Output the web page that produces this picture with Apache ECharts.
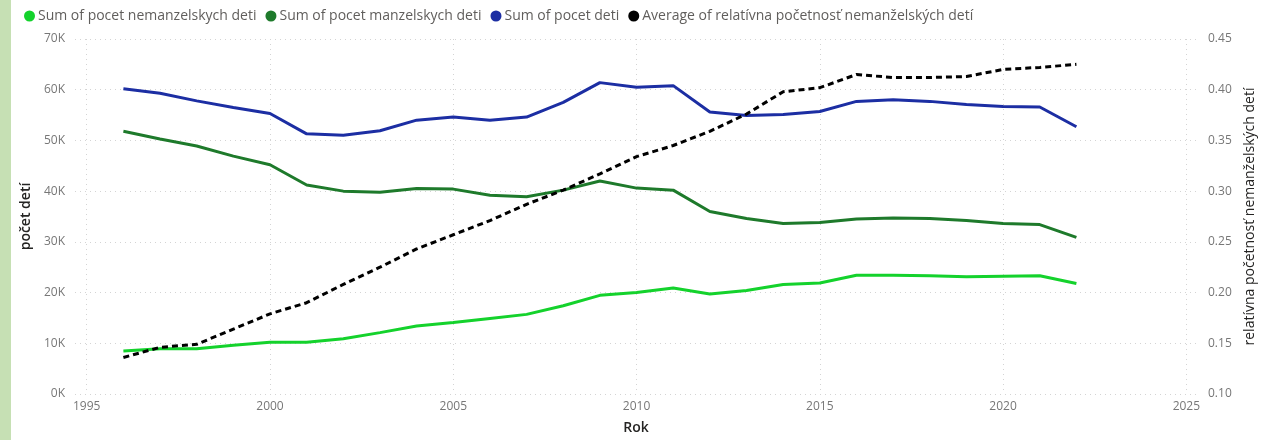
<!DOCTYPE html>
<html>
<head>
<meta charset="utf-8">
<script src="https://cdn.jsdelivr.net/npm/echarts@6/dist/echarts.min.js"></script>
<style>
  html, body { margin: 0; padding: 0; background: #fff; }
  #chart { width: 1276px; height: 440px; }
</style>
</head>
<body>
<div id="chart"></div>
<script>
var years = [1996, 1997, 1998, 1999, 2000, 2001, 2002, 2003, 2004, 2005, 2006, 2007, 2008, 2009,
             2010, 2011, 2012, 2013, 2014, 2015, 2016, 2017, 2018, 2019, 2020, 2021, 2022];

var nemanzelske = [8500, 8900, 8900, 9600, 10200, 10200, 10900, 12100, 13400, 14100, 14900, 15700, 17400, 19450,
                   20000, 20900, 19700, 20400, 21600, 21900, 23400, 23400, 23300, 23100, 23200, 23300, 21800];
var manzelske = [51800, 50300, 48900, 46900, 45200, 41200, 40000, 39800, 40500, 40400, 39200, 38900, 40200, 42000,
                 40600, 40200, 36000, 34600, 33600, 33800, 34500, 34700, 34600, 34200, 33600, 33400, 30900];
var spolu = [60200, 59300, 57800, 56500, 55300, 51300, 51000, 51900, 54000, 54600, 54000, 54600, 57500, 61400,
             60500, 60800, 55600, 54900, 55100, 55700, 57700, 58000, 57700, 57100, 56700, 56600, 52700];
var relativna = [0.136, 0.146, 0.149, 0.164, 0.179, 0.190, 0.208, 0.225, 0.243, 0.257, 0.271, 0.287, 0.301, 0.317,
                 0.334, 0.345, 0.359, 0.376, 0.398, 0.402, 0.415, 0.412, 0.412, 0.413, 0.420, 0.422, 0.425];

var yearTicks = [1995, 2000, 2005, 2010, 2015, 2020, 2025];

var seriesNames = ['Sum of pocet nemanzelskych deti', 'Sum of pocet manzelskych deti',
                   'Sum of pocet deti', 'Average of relatívna početnosť nemanželských detí'];
var colors = ['#14d22c', '#1e7a2b', '#1c2ea3', '#000000'];

function pairs(vals) {
  var out = [];
  for (var i = 0; i < years.length; i++) out.push([years[i], vals[i]]);
  return out;
}

var font = "'Segoe UI', 'Open Sans', sans-serif";
var gridColor = '#d4d4d4';

var myChart = echarts.init(document.getElementById('chart'));

var series = [];
var allVals = [nemanzelske, manzelske, spolu, relativna];
for (var i = 0; i < seriesNames.length; i++) {
  series.push({
    name: seriesNames[i],
    type: 'line',
    yAxisIndex: i == 3 ? 1 : 0,
    data: pairs(allVals[i]),
    showSymbol: false,
    symbol: 'none',
    z: i == 3 ? 5 : 2,
    lineStyle: {
      color: colors[i],
      width: 3,
      type: i == 3 ? [6, 4] : 'solid'
    },
    itemStyle: { color: colors[i] }
  });
}

var option = {
  animation: false,
  textStyle: { fontFamily: font },
  graphic: [{
    type: 'rect',
    left: 0, top: 0,
    shape: { width: 11, height: 440 },
    style: { fill: '#c6e0b4' }
  }],
  legend: {
    data: seriesNames,
    left: 19,
    top: 4,
    icon: 'circle',
    itemWidth: 11,
    itemHeight: 11,
    itemGap: 9,
    textStyle: { color: '#605e5c', fontSize: 14, fontFamily: font, padding: [0, 0, 0, -2] }
  },
  grid: { left: 75, right: 79, top: 39, bottom: 43 },
  xAxis: {
    type: 'value',
    min: 1994.68,
    max: 2025.29,
    name: 'Rok',
    nameLocation: 'middle',
    nameGap: 27,
    nameTextStyle: { color: '#252423', fontSize: 14, fontWeight: 600, fontFamily: font },
    axisLine: { show: false },
    axisTick: { show: false, customValues: yearTicks },
    axisLabel: {
      customValues: yearTicks,
      color: '#777777', fontSize: 12, margin: 7,
      formatter: function (v) { return String(v); }
    },
    splitLine: { show: true, lineStyle: { color: gridColor, type: [1, 4], width: 1 } }
  },
  yAxis: [{
    type: 'value',
    min: 0, max: 70000, interval: 10000,
    name: 'počet detí',
    nameLocation: 'middle',
    nameGap: 40,
    nameRotate: 90,
    nameTextStyle: { color: '#252423', fontSize: 14, fontWeight: 600, fontFamily: font },
    axisLine: { show: false },
    axisTick: { show: false },
    axisLabel: {
      color: '#777777', fontSize: 12, margin: 10,
      formatter: function (v) { return (v / 1000) + 'K'; }
    },
    splitLine: { show: true, lineStyle: { color: gridColor, type: [1, 4], width: 1 } }
  }, {
    type: 'value',
    min: 0.10, max: 0.45, interval: 0.05,
    name: 'relatívna početnosť nemanželských detí',
    nameLocation: 'middle',
    nameGap: 44,
    nameRotate: 90,
    nameTextStyle: { color: '#252423', fontSize: 14, fontFamily: font },
    axisLine: { show: false },
    axisTick: { show: false },
    axisLabel: {
      color: '#777777', fontSize: 12, margin: 11,
      formatter: function (v) { return v.toFixed(2); }
    },
    splitLine: { show: false }
  }],
  series: series
};

myChart.setOption(option);
</script>
</body>
</html>
